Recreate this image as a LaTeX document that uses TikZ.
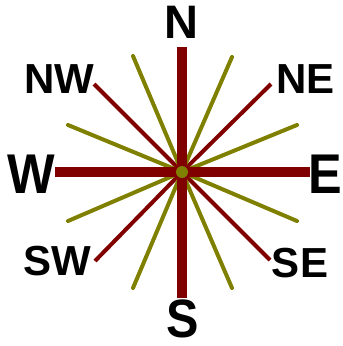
\documentclass[tikz,border=0pt]{standalone}
\usepackage{fontspec}
\setmainfont{Liberation Sans}
\definecolor{maroonc}{RGB}{128,0,0}
\definecolor{olivec}{RGB}{128,128,0}
\begin{document}
\begin{tikzpicture}[x=1pt,y=-1pt,
  cardinal/.style={draw=maroonc,line width=10pt},
  diagonal/.style={draw=maroonc,line width=4pt},
  minor/.style={draw=olivec,line width=4pt,line cap=round},
  lbl/.style={inner sep=0pt,anchor=base,font=\bfseries}]
\useasboundingbox (0,0) rectangle (343,346);
\coordinate (c) at (182,172);
% end points
\coordinate (pN) at (182,47);
\coordinate (pS) at (182,298);
\coordinate (pE) at (310,172);
\coordinate (pW) at (55,172);
\coordinate (pNW) at (94,84);
\coordinate (pNE) at (271,84);
\coordinate (pSE) at (270,260);
\coordinate (pSW) at (95,261);
\coordinate (o1) at (133,56);
\coordinate (o2) at (232,57);
\coordinate (o3) at (68,125);
\coordinate (o4) at (297,125);
\coordinate (o5) at (68,221);
\coordinate (o6) at (297,221);
\coordinate (o7) at (133,288);
\coordinate (o8) at (232,288);
% diagonals
\foreach \p in {pNW,pNE,pSE,pSW} \draw[diagonal] (c) -- (\p);
% minor rays
\foreach \p in {o1,o2,o3,o4,o5,o6,o7,o8} \draw[minor] (c) -- (\p);
% cardinal
\foreach \p in {pN,pS,pE,pW} \draw[cardinal] (c) -- (\p);
\fill[olivec] (c) circle (6);
% labels
\node[lbl,font=\fontsize{47}{47}\selectfont\bfseries] (lN) at (181.5,38) {N};
\node[lbl,font=\fontsize{56}{56}\selectfont\bfseries,xscale=0.9] (lW) at (31,193) {W};
\node[lbl,font=\fontsize{56}{56}\selectfont\bfseries,xscale=0.9] (lE) at (325,193) {E};
\node[lbl,font=\fontsize{54}{54}\selectfont\bfseries,xscale=0.9] (lS) at (182.5,337) {S};
\node[lbl,font=\fontsize{42}{42}\selectfont\bfseries] (lNW) at (59,93) {NW};
\node[lbl,font=\fontsize{42}{42}\selectfont\bfseries] (lNE) at (305.5,93) {NE};
\node[lbl,font=\fontsize{42}{42}\selectfont\bfseries] (lSW) at (57,275) {SW};
\node[lbl,font=\fontsize{42}{42}\selectfont\bfseries] (lSE) at (300,277) {SE};
\end{tikzpicture}
\end{document}
